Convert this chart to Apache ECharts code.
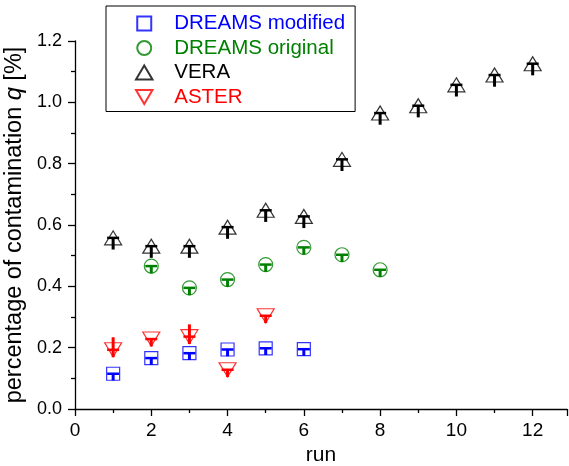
<!DOCTYPE html>
<html>
<head>
<meta charset="utf-8">
<script src="https://cdn.jsdelivr.net/npm/echarts@6/dist/echarts.min.js"></script>
<style>
  html, body { margin: 0; padding: 0; background: #fff; }
  #chart { width: 569px; height: 466px; }
</style>
</head>
<body>
<div id="chart"></div>
<script>
// values
const modRuns = [1, 2, 3, 4, 5, 6]
const modVals = [0.115, 0.166, 0.182, 0.194, 0.198, 0.195]
const modLow = [0.022, 0.022, 0.022, 0.022, 0.022, 0.022]
const modHigh = [0, 0, 0, 0, 0, 0]

const origRuns = [2, 3, 4, 5, 6, 7, 8]
const origVals = [0.466, 0.395, 0.422, 0.471, 0.527, 0.503, 0.454]
const origLow = [0.024, 0.024, 0.024, 0.024, 0.024, 0.024, 0.024]
const origHigh = [0, 0, 0, 0, 0, 0, 0]

const veraRuns = [1, 2, 3, 4, 5, 6, 7, 8, 9, 10, 11, 12]
const veraVals = [0.558, 0.531, 0.531, 0.593, 0.648, 0.628, 0.814, 0.965, 0.989, 1.057, 1.089, 1.126]
const veraLow = [0.038, 0.038, 0.038, 0.038, 0.038, 0.038, 0.038, 0.038, 0.038, 0.038, 0.038, 0.038]
const veraHigh = [0, 0, 0, 0, 0, 0, 0, 0, 0, 0, 0, 0]

const asterRuns = [1, 2, 3, 4, 5]
const asterVals = [0.193, 0.228, 0.236, 0.128, 0.304]
const asterLow = [0.024, 0.024, 0.024, 0.024, 0.024]
const asterHigh = [0.041, 0, 0.04, 0, 0]

const FONT = 'Liberation Sans, Arial, sans-serif'
const square = 'path://M0,0 L10,0 L10,10 L0,10 Z'
const upTri = 'path://M10,0 L20,17 L0,17 Z'
const downTri = 'path://M0,0 L20,0 L10,17 Z'

const zip = (xs, ys) => xs.map((x, i) => [x, ys[i]])
const zipErr = (xs, ys, lo, hi) => xs.map((x, i) => [x, ys[i], lo[i], hi[i]])

const scatter = (name, runs, vals, symbol, size, color) => ({
  name,
  type: 'scatter',
  data: zip(runs, vals),
  symbol,
  symbolSize: size,
  itemStyle: { color: 'rgba(255,255,255,0)', borderColor: color, borderWidth: 1.2 },
  z: 2
})

// small T-shaped error bars: cap at the value, stem down (and up where given)
const errBars = (runs, vals, lo, hi, color) => ({
  type: 'custom',
  data: zipErr(runs, vals, lo, hi),
  clip: false,
  z: 3,
  renderItem: (params, api) => {
    const x = api.value(0), v = api.value(1)
    const c = api.coord([x, v])
    const b = api.coord([x, v - api.value(2)])
    const t = api.coord([x, v + api.value(3)])
    return {
      type: 'group',
      children: [
        { type: 'line', shape: { x1: c[0], y1: t[1], x2: c[0], y2: b[1] }, style: { stroke: color, lineWidth: 3 } },
        { type: 'line', shape: { x1: c[0] - 6, y1: c[1], x2: c[0] + 6, y2: c[1] }, style: { stroke: color, lineWidth: 2.5 } }
      ]
    }
  }
})

const chart = echarts.init(document.getElementById('chart'))

const option = {
  backgroundColor: '#fff',
  animation: false,
  textStyle: { fontFamily: FONT },
  grid: { left: 75, right: 2, top: 41, bottom: 57, outerBoundsMode: 'none', containLabel: false },
  legend: {
    left: 106,
    top: 6,
    orient: 'vertical',
    backgroundColor: '#fff',
    borderColor: '#000',
    borderWidth: 1,
    borderRadius: 0,
    padding: [7, 10, 4, 29],
    itemGap: 3.5,
    itemWidth: 50,
    itemHeight: 14,
    textStyle: { fontSize: 20.5, fontFamily: FONT, lineHeight: 20 },
    data: [
      { name: 'DREAMS modified', textStyle: { color: '#0000ff' } },
      { name: 'DREAMS original', textStyle: { color: '#008000' } },
      { name: 'VERA', textStyle: { color: '#000' } },
      { name: 'ASTER', textStyle: { color: '#ff0000' } }
    ]
  },
  xAxis: {
    type: 'value',
    min: 0,
    max: 12.9,
    interval: 2,
    name: 'run',
    nameLocation: 'middle',
    nameGap: 24,
    nameTextStyle: { fontSize: 21, color: '#000', fontFamily: FONT },
    axisLine: { show: true, onZero: false, lineStyle: { color: '#000', width: 1.3 } },
    axisTick: { show: true, inside: false, length: 7, lineStyle: { color: '#000', width: 1.3 } },
    minorTick: { show: true, splitNumber: 2, length: 4, lineStyle: { color: '#000', width: 1.3 } },
    axisLabel: { fontSize: 19, color: '#000', margin: 12, showMaxLabel: false },
    splitLine: { show: false }
  },
  yAxis: {
    type: 'value',
    min: 0,
    max: 1.2,
    interval: 0.2,
    name: '{a|percentage of contamination }{b|q}{a| [%]}',
    nameLocation: 'middle',
    nameGap: 42,
    nameRotate: 90,
    nameTextStyle: {
      rich: {
        a: { fontSize: 23.5, color: '#000', fontFamily: FONT },
        b: { fontSize: 23.5, color: '#000', fontFamily: FONT, fontStyle: 'italic' }
      }
    },
    axisLine: { show: true, onZero: false, lineStyle: { color: '#000', width: 1.3 } },
    axisTick: { show: true, inside: false, length: 7, lineStyle: { color: '#000', width: 1.3 } },
    minorTick: { show: true, splitNumber: 2, length: 4, lineStyle: { color: '#000', width: 1.3 } },
    axisLabel: { fontSize: 18, color: '#000', margin: 13, formatter: (v) => v.toFixed(1) },
    splitLine: { show: false }
  },
  series: [
    scatter('DREAMS modified', modRuns, modVals, square, 13, '#0000ff'),
    scatter('DREAMS original', origRuns, origVals, 'circle', 14, '#008000'),
    scatter('VERA', veraRuns, veraVals, upTri, [17, 14], '#000'),
    scatter('ASTER', asterRuns, asterVals, downTri, [17, 14], '#ff0000'),
    errBars(modRuns, modVals, modLow, modHigh, '#0000ff'),
    errBars(origRuns, origVals, origLow, origHigh, '#008000'),
    errBars(veraRuns, veraVals, veraLow, veraHigh, '#000'),
    errBars(asterRuns, asterVals, asterLow, asterHigh, '#ff0000')
  ]
}

chart.setOption(option)
</script>
</body>
</html>
